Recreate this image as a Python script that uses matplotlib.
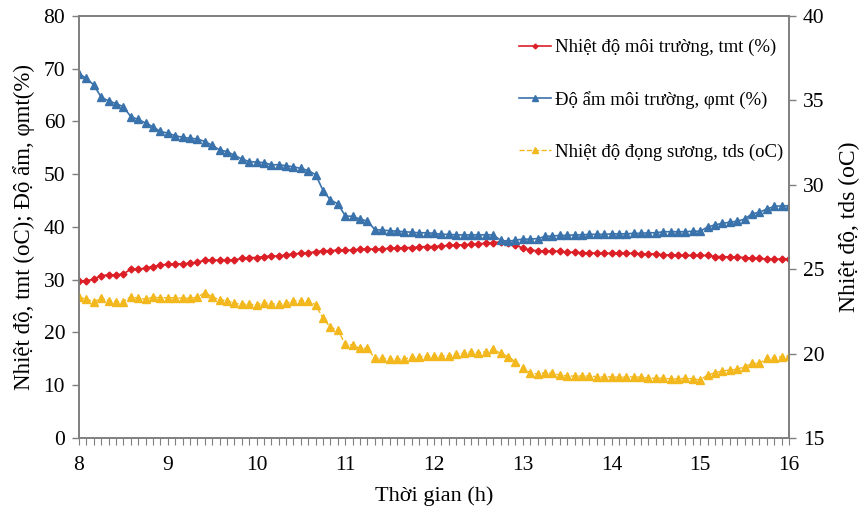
import numpy as np
import matplotlib
matplotlib.use("Agg")
import matplotlib.pyplot as plt
from matplotlib.ticker import MultipleLocator

plt.rcParams['font.family'] = ['Liberation Serif', 'DejaVu Serif']

# readings every 5 minutes from 8:00 to 16:00
time_h = 8 + np.arange(97) / 12

t_env = [29.8, 29.8, 30.1, 30.8, 30.9, 30.9, 31.1, 32.0, 32.0, 32.2, 32.5, 32.8, 32.9,
         33.0, 33.0, 33.1, 33.3, 33.7, 33.7, 33.7, 33.7, 33.7, 34.1, 34.2, 34.2,
         34.4, 34.5, 34.5, 34.7, 34.9, 35.0, 35.1, 35.3, 35.5, 35.5, 35.6, 35.6,
         35.6, 35.8, 35.8, 35.8, 35.8, 36.0, 36.0, 36.1, 36.1, 36.2, 36.3, 36.3,
         36.4, 36.5, 36.6, 36.6, 36.7, 36.8, 36.9, 37.0, 37.2, 37.0, 36.6, 36.0,
         35.6, 35.5, 35.4, 35.4, 35.4, 35.2, 35.2, 35.1, 35.1, 35.0, 35.0, 35.0,
         35.0, 35.0, 35.0, 34.9, 34.9, 34.9, 34.7, 34.7, 34.6, 34.6, 34.6, 34.6,
         34.6, 34.4, 34.4, 34.3, 34.3, 34.2, 34.1, 34.1, 33.9, 33.9, 33.9, 33.9]

rh_env = [69.0, 68.2, 66.9, 64.6, 63.9, 63.4, 62.8, 60.9, 60.4, 59.7, 59.0, 58.1, 57.8,
          57.3, 57.0, 56.8, 56.7, 56.2, 55.5, 54.6, 54.3, 53.6, 52.9, 52.4, 52.3,
          52.2, 51.8, 51.8, 51.6, 51.4, 51.1, 50.7, 49.9, 46.9, 45.1, 44.4, 42.1,
          42.0, 41.5, 41.1, 39.5, 39.4, 39.3, 39.2, 39.1, 39.0, 38.9, 38.9, 38.8,
          38.6, 38.6, 38.5, 38.5, 38.5, 38.5, 38.5, 38.5, 37.5, 37.3, 37.5, 37.7,
          37.7, 37.8, 38.2, 38.3, 38.4, 38.4, 38.5, 38.5, 38.6, 38.6, 38.6, 38.7,
          38.7, 38.7, 38.8, 38.8, 38.9, 38.9, 39.1, 39.1, 39.1, 39.1, 39.2, 39.2,
          40.0, 40.4, 40.7, 40.9, 41.1, 41.5, 42.5, 42.8, 43.4, 43.9, 44.0, 44.0]

t_dew = [23.34, 23.22, 23.08, 23.28, 23.14, 23.08, 23.08, 23.37, 23.28, 23.22, 23.34, 23.31, 23.31,
         23.31, 23.28, 23.28, 23.34, 23.61, 23.37, 23.18, 23.14, 22.98, 22.92, 22.92, 22.88,
         23.02, 22.94, 22.94, 22.98, 23.14, 23.14, 23.14, 22.88, 22.09, 21.56, 21.40, 20.55,
         20.51, 20.31, 20.31, 19.72, 19.72, 19.68, 19.66, 19.68, 19.78, 19.82, 19.86, 19.86,
         19.86, 19.88, 19.98, 20.02, 20.11, 20.05, 20.11, 20.25, 20.02, 19.82, 19.52, 19.13,
         18.87, 18.79, 18.87, 18.83, 18.73, 18.67, 18.67, 18.67, 18.67, 18.63, 18.60, 18.63,
         18.60, 18.60, 18.63, 18.60, 18.54, 18.54, 18.54, 18.50, 18.50, 18.54, 18.50, 18.44,
         18.73, 18.87, 18.97, 19.03, 19.07, 19.22, 19.42, 19.42, 19.72, 19.76, 19.82, 19.86]

red = "#dc1f26"
blue = "#3a72ab"
yellow = "#f2b81e"
gray = "#7f7f7f"

fig = plt.figure(figsize=(8.59, 5.15), dpi=100)
ax = fig.add_axes([0.092, 0.1495, 0.8265, 0.8195])
ax2 = ax.twinx()

l1, = ax.plot(time_h, t_env, color=red, marker='D', markersize=3.5, linewidth=1.2,
              label="Nhiệt độ môi trường, tmt (%)")
l2, = ax.plot(time_h, rh_env, color=blue, marker='^', markersize=6, linewidth=1.2,
              label="Độ ẩm môi trường, φmt (%)")
l3, = ax2.plot(time_h, t_dew, color=yellow, marker='^', markersize=6, linewidth=1,
               linestyle='--', label="Nhiệt độ đọng sương, tds (oC)")

ax.set_xlim(8, 16)
ax.set_ylim(0, 80)
ax2.set_ylim(15, 40)
ax.xaxis.set_major_locator(MultipleLocator(1))
ax.xaxis.set_minor_locator(MultipleLocator(1 / 12))
ax.yaxis.set_major_locator(MultipleLocator(10))
ax2.yaxis.set_major_locator(MultipleLocator(5))

for a in (ax, ax2):
    for s in a.spines.values():
        s.set_color(gray)
        s.set_linewidth(1.2)
ax.tick_params(axis='both', which='both', direction='out', color=gray, labelsize=15.5)
ax.tick_params(axis='x', which='both', length=5, width=0.8, pad=8)
ax.tick_params(axis='y', length=5, width=1, pad=5)
ax2.tick_params(axis='y', direction='out', length=5, width=1, color=gray,
                labelsize=15.5, pad=5)

ax.set_xlabel("Thời gian (h)", fontsize=16, labelpad=8)
ax.set_ylabel("Nhiệt độ, tmt (oC); Độ ẩm, φmt(%)", fontsize=16.5, labelpad=6)
ax2.set_ylabel("Nhiệt độ, tds (oC)", fontsize=17, labelpad=10)

ax.legend(handles=[l1, l2, l3], loc='upper right', bbox_to_anchor=(1.015, 0.985),
          frameon=False, fontsize=13.5, labelspacing=1.85, handlelength=1.7,
          handletextpad=0.2, markerscale=0.7)

fig.savefig("out.png", dpi=100)
